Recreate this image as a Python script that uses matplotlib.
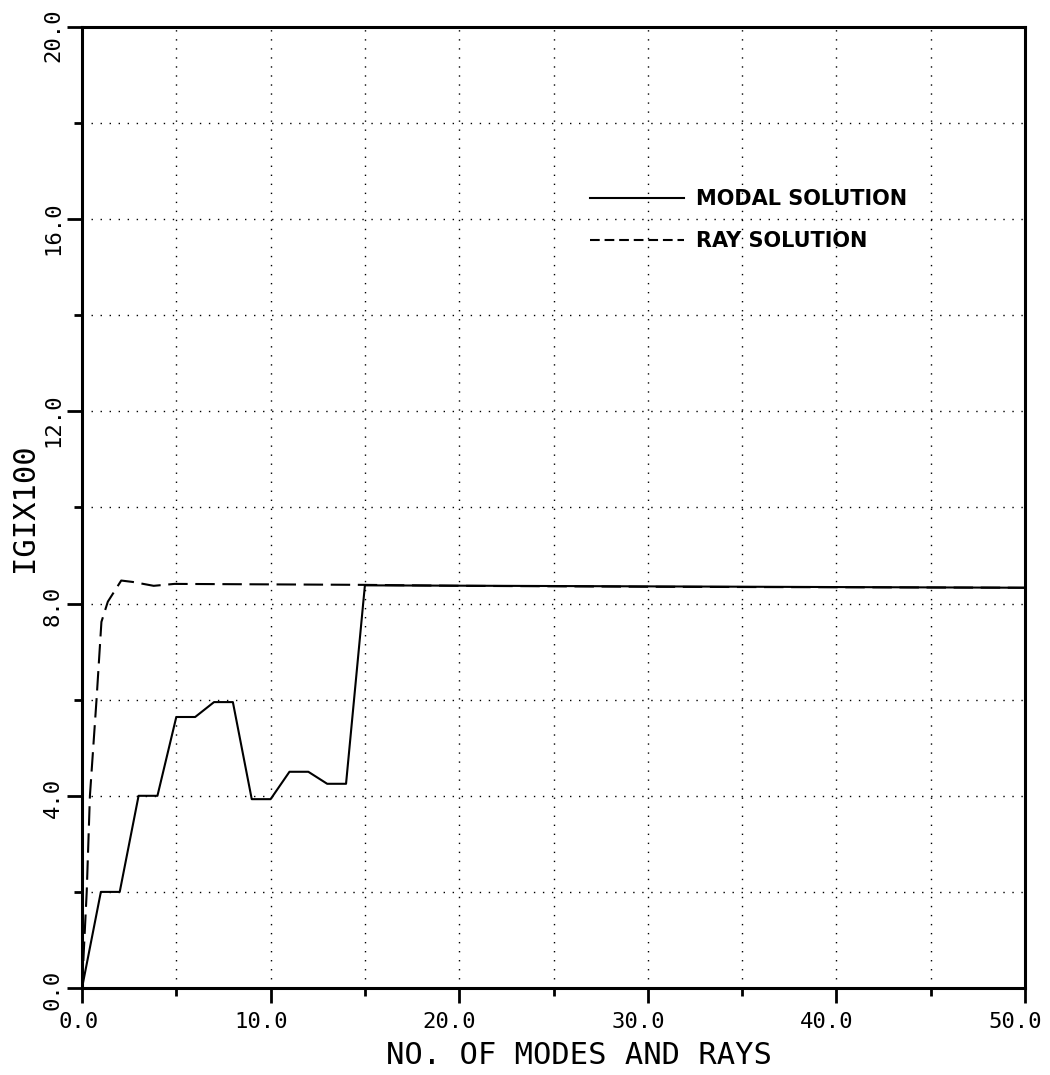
import numpy as np
import matplotlib
matplotlib.use("Agg")
import matplotlib.pyplot as plt
from matplotlib.lines import Line2D
from matplotlib.transforms import ScaledTranslation, blended_transform_factory

plt.rcParams['lines.scale_dashes'] = False

# data
modes = [0, 1, 2, 3, 4, 5, 6, 7, 8, 9, 10, 11, 12, 13, 14, 15, 50]
modal = [0, 2.0, 2.0, 4.0, 4.0, 5.64, 5.64, 5.95, 5.95, 3.93, 3.93,
         4.5, 4.5, 4.25, 4.25, 8.38, 8.33]

rays = [0, 0.25, 0.42, 0.77, 1.03, 1.37, 2.08, 2.7, 3.8, 4.9, 10, 15, 20, 30, 40, 50]
ray = [0, 2.0, 4.0, 6.0, 7.62, 8.04, 8.48, 8.45, 8.37, 8.41, 8.40, 8.39,
       8.37, 8.35, 8.34, 8.33]

xticks = [0, 10, 20, 30, 40, 50]
yticks = [0, 4, 8, 12, 16, 20]
xlabels = ['0.0', '10.0', '20.0', '30.0', '40.0', '50.0']
ylabels = ['0.0', '4.0', '8.0', '12.0', '16.0', '20.0']

fig = plt.figure(figsize=(10.5, 10.75), dpi=100)
ax = fig.add_axes([82/1050, 87/1075, 943/1050, 961/1075])

ax.plot(modes, modal, color='black', lw=1.5, label='MODAL SOLUTION')
ax.plot(rays, ray, color='black', lw=1.5, dashes=(14, 5.5), label='RAY SOLUTION')

ax.set_xlim(0, 50)
ax.set_ylim(0, 20)
ax.set_xticks(xticks)
ax.set_xticks([5, 15, 25, 35, 45], minor=True)
ax.set_yticks(yticks)
ax.set_yticks([2, 6, 10, 14, 18], minor=True)
ax.set_xticklabels([])
ax.set_yticklabels([])
ax.tick_params(which='major', length=11, width=2, direction='out')
ax.tick_params(which='minor', length=6, width=2, direction='out')
ax.grid(True, which='both', color='black', lw=1.0, linestyle=(0, (1, 5.5)))

for s in ax.spines.values():
    s.set_linewidth(2.2)

# tick labels: right-aligned ~17px past the tick, like the plotter did
tfx = blended_transform_factory(ax.transData, ax.transAxes)
for v, t in zip(xticks, xlabels):
    ax.text(v, 0, t, transform=tfx + ScaledTranslation(0.17, -0.24, fig.dpi_scale_trans),
            ha='right', va='top', fontsize=16, family='DejaVu Sans Mono')
tfy = blended_transform_factory(ax.transAxes, ax.transData)
for v, t in zip(yticks, ylabels):
    ax.text(0, v, t, transform=tfy + ScaledTranslation(-0.19, 0.18, fig.dpi_scale_trans),
            ha='right', va='top', rotation=90, fontsize=16, family='DejaVu Sans Mono')

fig.text(579/1050, 1 - 1056/1075, 'NO. OF MODES AND RAYS', ha='center', va='center',
         fontsize=22, family='DejaVu Sans Mono')
fig.text(24/1050, 1 - 508/1075, 'IGIX100', ha='center', va='center', rotation=90,
         fontsize=22, family='DejaVu Sans Mono')

handles = [Line2D([], [], color='black', lw=1.5),
           Line2D([], [], color='black', lw=1.5, dashes=(7, 3.5))]
ax.legend(handles, ['MODAL SOLUTION', 'RAY SOLUTION'], frameon=False,
          loc='upper left', bbox_to_anchor=(590/1050, 1 - 189/1075),
          bbox_transform=fig.transFigure, borderpad=0, borderaxespad=0,
          handlelength=4.5, handletextpad=0.6, labelspacing=1.05,
          prop={'weight': 'bold', 'size': 15})

fig.savefig('out.png', dpi=100)
